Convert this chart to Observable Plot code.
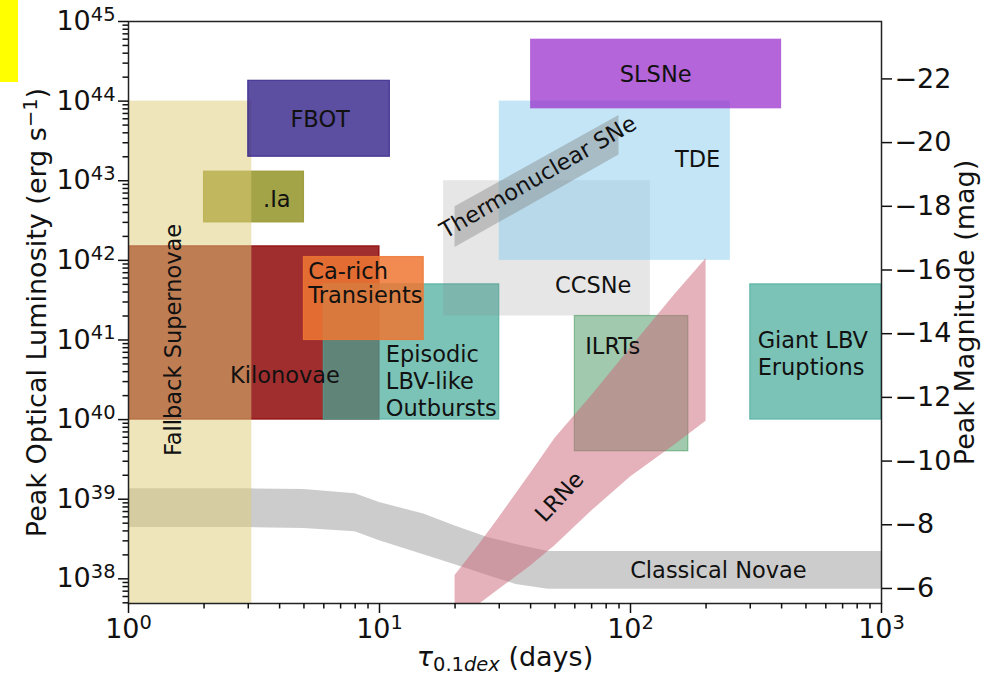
<!DOCTYPE html>
<html>
<head>
<meta charset="utf-8">
<style>
  body { margin: 0; background: #fff; }
  #chart { position: relative; width: 986px; height: 676px; }
  #chart .flag { position: absolute; left: 0; top: 0; width: 18px; height: 82px; background: #ffff00; z-index: 2; }
  #chart svg { display: block; }
</style>
<script src="https://cdn.jsdelivr.net/npm/d3@7"></script>
<script src="https://cdn.jsdelivr.net/npm/@observablehq/plot@0.6"></script>
</head>
<body>
<div id="chart"><div class="flag"></div></div>
<script>
// Transient phase space: time spent within 0.1 dex of peak (days) vs peak optical luminosity (erg/s)

// Rectangular regions
const boxName   = [".Ia", "Kilonovae", "Episodic LBV-like Outbursts", "Ca-rich Transients", "CCSNe", "TDE",
                   "SLSNe", "ILRTs", "Giant LBV Eruptions", "Fallback Supernovae", "FBOT"];
const boxTauMin = [2, 1, 6, 5, 18, 30, 40, 60, 300, 1, 3];
const boxTauMax = [5, 10, 30, 15, 120, 250, 400, 170, 1000, 3.1, 11];
const boxLumMin = [3e42, 1e40, 1e40, 1e41, 2e41, 1e42, 8e43, 4e39, 1e40, 1e37, 2e43];
const boxLumMax = [1.3e43, 1.5e42, 5e41, 1.1e42, 1e43, 1e44, 6e44, 2e41, 5e41, 1e44, 1.8e44];

// Thermonuclear SNe band
const thermoTau = [20, 90];
const thermoLo  = [1.45e42, 2.1e43];
const thermoHi  = [4.7e42, 6.6e43];

// Classical novae band
const novaTau = [1, 3, 5, 8, 10, 15, 20, 27, 35, 47, 1000];
const novaHi  = [1.35e39, 1.35e39, 1.32e39, 1.17e39, 9.1e38, 6.5e38, 4.6e38, 3.3e38, 2.7e38, 2.2e38, 2.2e38];
const novaLo  = [4.4e38, 4.4e38, 4.3e38, 3.9e38, 3.0e38, 2.0e38, 1.5e38, 1.1e38, 8.5e37, 7.4e37, 7.4e37];

// Luminous red novae band
const lrnTau = [20, 25, 30, 40, 50, 70, 100, 150, 200];
const lrnHi  = [1.1e38, 2.7e38, 5.9e38, 2.1e39, 5.8e39, 2.0e40, 7.9e40, 3.7e41, 1.05e42];
const lrnLo  = [2.8e37, 4.8e37, 7.4e37, 1.45e38, 2.6e38, 7.1e38, 1.9e39, 4.8e39, 9.5e39];

// Region labels
const labelText = ["FBOT", ".Ia", "Fallback Supernovae", "Kilonovae", "Ca-rich\nTransients",
                   "Episodic\nLBV-like\nOutbursts", "CCSNe", "TDE", "SLSNe", "ILRTs",
                   "Giant LBV\nEruptions", "LRNe", "Thermonuclear SNe", "Classical Novae"];
const labelTau  = [5.8, 3.9, 1.5, 4.2, 5.2, 10.6, 71, 185, 126, 66, 321, 51.7, 42.6, 224];
const labelLum  = [6e43, 6e42, 1e41, 3.7e40, 5.2e41, 3.1e40, 5e41, 1.9e43, 2.2e44, 8.5e40, 6.8e40, 1.1e39, 1.15e43, 1.3e38];

// Axis ticks
const lumTicks = [1e38, 1e39, 1e40, 1e41, 1e42, 1e43, 1e44, 1e45];
const tauTicks = [1, 10, 100, 1000];
const magTicks = [-22, -20, -18, -16, -14, -12, -10, -8, -6];

// Absolute bolometric magnitude zero point (erg/s)
const L0 = 3.0128e35;
const fromMag = M => L0 * Math.pow(10, -M / 2.5);

// Appearance of each region, in drawing order
const look = {
  ".Ia":                         {fill: "#999933", alpha: 0.9,  edge: true},
  "Kilonovae":                   {fill: "#8b0000", alpha: 0.82, edge: true},
  "Episodic LBV-like Outbursts": {fill: "#44aa99", alpha: 0.7,  edge: true},
  "Ca-rich Transients":          {fill: "#ee7733", alpha: 0.85, edge: true},
  "CCSNe":                       {fill: "#808080", alpha: 0.2,  edge: false},
  "TDE":                         {fill: "#88ccee", alpha: 0.5,  edge: false},
  "Thermonuclear SNe":           {fill: "#808080", alpha: 0.4},
  "SLSNe":                       {fill: "#9932cc", alpha: 0.75, edge: false},
  "ILRTs":                       {fill: "#117733", alpha: 0.4,  edge: true},
  "Giant LBV Eruptions":         {fill: "#44aa99", alpha: 0.7,  edge: true},
  "Classical Novae":             {fill: "#808080", alpha: 0.4},
  "LRNe":                        {fill: "#cc6677", alpha: 0.5},
  "Fallback Supernovae":         {fill: "#ddcc77", alpha: 0.5,  edge: false},
  "FBOT":                        {fill: "#332288", alpha: 0.8,  edge: true}
};
const labelLook = {
  "Fallback Supernovae": {rotate: -90},
  "Ca-rich\nTransients": {anchor: "start", lineHeight: 1.08},
  "Episodic\nLBV-like\nOutbursts": {anchor: "start", lineHeight: 1.2},
  "ILRTs": {anchor: "start"},
  "Giant LBV\nEruptions": {anchor: "start", lineHeight: 1.2},
  "LRNe": {rotate: -47},
  "Thermonuclear SNe": {rotate: -30}
};

const AXIS_FONT = 27;
const LABEL_FONT = 22.5;

const boxes = boxName.map((name, i) => ({name, tau1: boxTauMin[i], tau2: boxTauMax[i], lum1: boxLumMin[i], lum2: boxLumMax[i]}));
const bands = {
  "Thermonuclear SNe": thermoTau.map((tau, i) => ({tau, lo: thermoLo[i], hi: thermoHi[i]})),
  "Classical Novae":   novaTau.map((tau, i) => ({tau, lo: novaLo[i], hi: novaHi[i]})),
  "LRNe":              lrnTau.map((tau, i) => ({tau, lo: lrnLo[i], hi: lrnHi[i]}))
};
const labels = labelText.map((text, i) => ({text, tau: labelTau[i], lum: labelLum[i]}));

const regionMarks = Object.keys(look).map(name => {
  const s = look[name];
  if (bands[name]) {
    return Plot.areaY(bands[name], {x: "tau", y1: "lo", y2: "hi", fill: s.fill, fillOpacity: s.alpha, clip: true});
  }
  return Plot.rect(boxes.filter(b => b.name === name), {
    x1: "tau1", x2: "tau2", y1: "lum1", y2: "lum2",
    fill: s.fill, fillOpacity: s.alpha,
    stroke: s.edge ? s.fill : "none", strokeOpacity: s.alpha, strokeWidth: 1.2,
    clip: true
  });
});

const labelMarks = labels.map(d => {
  const s = labelLook[d.text] || {};
  return Plot.text([d], {
    x: "tau", y: "lum", text: "text",
    textAnchor: s.anchor || "middle", rotate: s.rotate || 0, lineHeight: s.lineHeight || 1.2,
    fontSize: LABEL_FONT, fill: "#111"
  });
});

const minorTicks = (lo, hi) => {
  const out = [];
  for (let e = lo; e < hi; e++) for (let k = 2; k <= 9; k++) out.push(k * Math.pow(10, e));
  return out;
};
const powLabel = d => `10^${Math.round(Math.log10(d))}`;
const magText = m => (m < 0 ? "\u2212" : "") + Math.abs(m);

const svg = Plot.plot({
  width: 986,
  height: 676,
  marginLeft: 128,
  marginRight: 105,
  marginTop: 21,
  marginBottom: 73,
  x: {type: "log", domain: [1, 1000]},
  y: {type: "log", domain: [4.9e37, 1e45]},
  style: {fontFamily: "'DejaVu Sans', sans-serif", fontSize: AXIS_FONT + "px", color: "#111", background: "#fff"},
  marks: [
    ...regionMarks,
    ...labelMarks,
    Plot.frame({stroke: "#222", strokeWidth: 1.5}),
    Plot.axisX({ticks: minorTicks(0, 3), tickSize: 5.5, tickFormat: () => "", strokeWidth: 1.5, label: null}),
    Plot.axisX({ticks: tauTicks, tickSize: 10, tickPadding: 5, tickFormat: powLabel, strokeWidth: 1.5,
                label: "τ_0.1dex (days)", labelAnchor: "center", labelOffset: 62, labelArrow: "none"}),
    Plot.axisY({ticks: minorTicks(37, 45).filter(v => v >= 4.9e37), tickSize: 5.5, tickFormat: () => "", strokeWidth: 1.5, label: null}),
    Plot.axisY({ticks: lumTicks, tickSize: 10, tickPadding: 3, tickFormat: powLabel, strokeWidth: 1.5,
                label: "Peak Optical Luminosity (erg s^\u22121)", labelAnchor: "center", labelOffset: 102, labelArrow: "none"}),
    // secondary magnitude axis on the right
    Plot.axisY({ticks: magTicks.map(fromMag), anchor: "right", tickSize: 10, tickFormat: () => "", strokeWidth: 1.5,
                label: "Peak Magnitude (mag)", labelAnchor: "center", labelOffset: 92, labelArrow: "none"}),
    Plot.text(magTicks, {y: fromMag, text: magText, frameAnchor: "right", dx: 13, textAnchor: "start",
                         fontSize: AXIS_FONT, fill: "#111"})
  ]
});

document.getElementById("chart").appendChild(svg);

// Typeset exponents and subscripts in tick and axis labels
d3.select(svg).selectAll("text").each(function () {
  const el = this;
  const raw = el.textContent;
  const fs = parseFloat(getComputedStyle(el).fontSize) || AXIS_FONT;
  const t = d3.select(el);
  let m;
  if ((m = /^10\^(\S+)$/.exec(raw))) {
    t.text(null);
    t.append("tspan").text("10");
    t.append("tspan").attr("font-size", 0.72 * fs).attr("dy", -0.34 * fs).text(m[1]);
  } else if ((m = /^(.*)\^(\S+)\)$/.exec(raw))) {
    t.text(null);
    t.append("tspan").text(m[1]);
    t.append("tspan").attr("font-size", 0.72 * fs).attr("dy", -0.34 * fs).text(m[2]);
    t.append("tspan").attr("dy", 0.34 * fs).text(")");
  } else if ((m = /^τ_(\S+) (.*)$/.exec(raw))) {
    t.text(null);
    t.append("tspan").attr("font-style", "italic").text("τ");
    t.append("tspan").attr("font-size", 0.72 * fs).attr("dy", 0.22 * fs).text("0.1");
    t.append("tspan").attr("font-size", 0.72 * fs).attr("font-style", "italic").text("dex");
    t.append("tspan").attr("dy", -0.22 * fs).text(" " + m[2]);
  }
});
</script>
</body>
</html>
